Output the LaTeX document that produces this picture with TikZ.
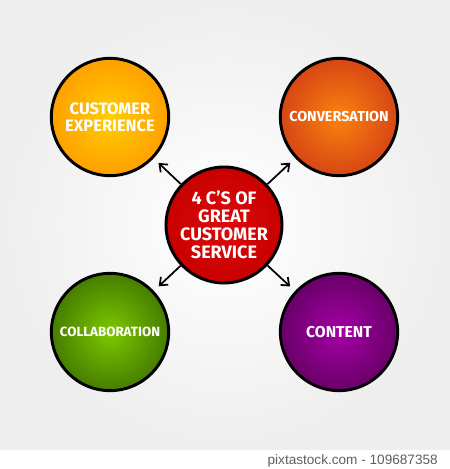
\documentclass[tikz,border=0pt]{standalone}
\usepackage{fontspec}
\setmainfont{Fira Sans}
\newfontfamily\captionfont{Liberation Sans}
\usetikzlibrary{arrows.meta}

\definecolor{bggray}{RGB}{238,238,238}
\definecolor{capgray}{RGB}{95,95,95}

\begin{document}
\begin{tikzpicture}[x=0.75pt,y=0.75pt,>={Straight Barb[length=5pt,width=8pt]},
    bubble/.style={circle, draw=black, line width=2.2pt, minimum size=88pt,
                   inner sep=0pt, text=white, align=center},
    arr/.style={->, line width=1.3pt, shorten >=5pt}]

  \useasboundingbox (0,0) rectangle (450,469);

  % --- background --------------------------------------------------
  \fill[white] (0,0) rectangle (450,19);
  \shade[inner color=white, outer color=bggray] (0,19) rectangle (450,469);

  \node[font=\captionfont\fontsize{10.2}{12}\selectfont, text=capgray,
        anchor=east, inner sep=0pt] (stock) at (438,8) {pixtastock.com - 109687358};

  % --- circles -----------------------------------------------------
  \node[bubble, minimum size=87pt, inner color={rgb,255:red,222;green,10;blue,10},
        outer color={rgb,255:red,200;green,0;blue,0},
        font=\bfseries\fontsize{13.5}{13.5}\selectfont]
        (core) at (224,244) {4 C'S OF\\GREAT\\CUSTOMER\\SERVICE};

  \node[bubble, inner color={rgb,255:red,255;green,205;blue,0},
        outer color={rgb,255:red,255;green,160;blue,0},
        font=\bfseries\fontsize{12.4}{13}\selectfont]
        (experience) at (110,352) {CUSTOMER\\EXPERIENCE};

  \node[bubble, inner color={rgb,255:red,250;green,130;blue,15},
        outer color={rgb,255:red,215;green,70;blue,20},
        font=\bfseries\fontsize{10.8}{12}\selectfont]
        (conversation) at (339,352) {CONVERSATION};

  \node[bubble, inner color={rgb,255:red,125;green,200;blue,0},
        outer color={rgb,255:red,70;green,125;blue,0},
        font=\bfseries\fontsize{10}{12}\selectfont]
        (collaboration) at (110,137) {COLLABORATION};

  \node[bubble, inner color={rgb,255:red,165;green,0;blue,165},
        outer color={rgb,255:red,105;green,0;blue,105},
        font=\bfseries\fontsize{11.8}{12}\selectfont]
        (content) at (339,137) {CONTENT};

  % --- arrows from the core ----------------------------------------
  \foreach \t in {experience,conversation,collaboration,content}
      \draw[arr] (core) -- (\t);

\end{tikzpicture}
\end{document}
